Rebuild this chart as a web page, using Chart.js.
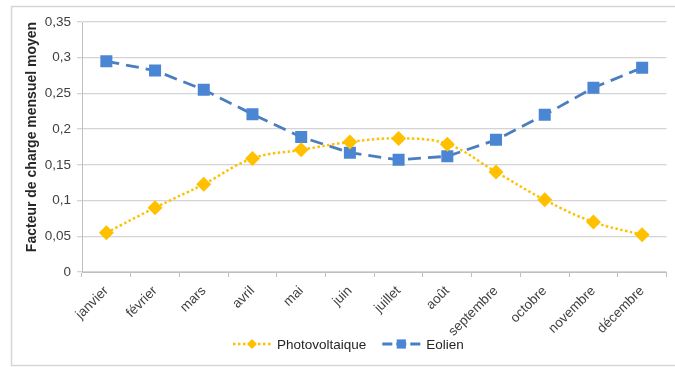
<!DOCTYPE html>
<html lang="fr">
<head>
<meta charset="utf-8">
<title>Facteur de charge mensuel moyen</title>
<script src="https://cdn.jsdelivr.net/npm/chart.js@4/dist/chart.umd.min.js"></script>
<style>
  html, body { margin: 0; padding: 0; background: #ffffff; }
  #wrap { position: relative; width: 675px; height: 367px; }
  canvas { display: block; }
</style>
</head>
<body>
<div id="wrap"><canvas id="chart" width="675" height="367"></canvas></div>
<script>
// Mois de l'année
const months = ['janvier', 'février', 'mars', 'avril', 'mai', 'juin', 'juillet', 'août',
                'septembre', 'octobre', 'novembre', 'décembre'];

// Facteur de charge mensuel moyen par filière
const photovoltaique = [0.055, 0.090, 0.123, 0.159, 0.171, 0.182, 0.187, 0.179, 0.140, 0.101, 0.070, 0.052];
const eolien         = [0.295, 0.282, 0.255, 0.221, 0.189, 0.167, 0.157, 0.162, 0.185, 0.220, 0.258, 0.286];

// Graduations de l'axe vertical
const yTickLabels = ['0', '0,05', '0,1', '0,15', '0,2', '0,25', '0,3', '0,35'];

const seriesNames = ['Photovoltaique', 'Eolien'];
const yAxisTitle = 'Facteur de charge mensuel moyen';

const FONT = "'Liberation Sans', Arial, sans-serif";
const GOLD = '#FFC000';
const BLUE = '#4A7EC0';
const BLUE_MARK = '#4A86D4';

// Cadre gris autour du graphique
const framePlugin = {
  id: 'frame',
  beforeDraw(chart) {
    const ctx = chart.ctx;
    ctx.save();
    ctx.fillStyle = '#ffffff';
    ctx.fillRect(0, 0, chart.width, chart.height);
    ctx.strokeStyle = '#d6d6d6';
    ctx.lineWidth = 1.5;
    ctx.strokeRect(11.5, 6.5, chart.width + 20, chart.height - 8);
    ctx.restore();
  }
};

// Titre de l'axe vertical, placé un peu au-dessus du centre de la zone de tracé
const yTitlePlugin = {
  id: 'yTitle',
  afterDraw(chart) {
    const ctx = chart.ctx;
    ctx.save();
    ctx.translate(32, 137);
    ctx.rotate(-Math.PI / 2);
    ctx.font = 'bold 14px ' + FONT;
    ctx.fillStyle = '#262626';
    ctx.textAlign = 'center';
    ctx.textBaseline = 'middle';
    ctx.fillText(yAxisTitle, 0, 0);
    ctx.restore();
  }
};

// Légende en bas : trait + marqueur + libellé, comme dans Excel
const lineLegendPlugin = {
  id: 'lineLegend',
  afterDraw(chart) {
    const ctx = chart.ctx;
    const y = 344;
    ctx.save();
    ctx.font = '13.5px ' + FONT;
    ctx.textBaseline = 'middle';
    const sym = 38, gap = 6, between = 16;
    let x = 233;
    chart.data.datasets.forEach((ds) => {
      ctx.save();
      ctx.strokeStyle = ds.borderColor;
      ctx.lineWidth = ds.borderWidth;
      ctx.setLineDash(ds.legendDash);
      ctx.beginPath();
      ctx.moveTo(x, y);
      ctx.lineTo(x + sym, y);
      ctx.stroke();
      ctx.restore();
      ctx.save();
      ctx.fillStyle = ds.pointBackgroundColor;
      ctx.strokeStyle = ds.pointBackgroundColor;
      Chart.helpers.drawPoint(ctx, {
        pointStyle: ds.pointStyle,
        radius: ds.legendRadius,
        borderWidth: 0
      }, x + sym / 2, y);
      ctx.restore();
      ctx.fillStyle = '#262626';
      ctx.fillText(ds.label, x + sym + gap, y + 1);
      x += sym + gap + ctx.measureText(ds.label).width + between;
    });
    ctx.restore();
  }
};

new Chart(document.getElementById('chart'), {
  type: 'line',
  data: {
    labels: months,
    datasets: [
      {
        label: seriesNames[0],
        data: photovoltaique,
        borderColor: GOLD,
        borderWidth: 2.5,
        borderDash: [2.5, 2.5],
        legendDash: [2.5, 2.5],
        legendRadius: 5,
        tension: 0.4,
        pointStyle: 'rectRot',
        pointRadius: 7.5,
        pointHoverRadius: 7.5,
        pointBackgroundColor: GOLD,
        pointBorderColor: GOLD,
        pointBorderWidth: 0
      },
      {
        label: seriesNames[1],
        data: eolien,
        borderColor: BLUE,
        borderWidth: 2.8,
        borderDash: [13, 7],
        legendDash: [10, 4],
        legendRadius: 6.5,
        tension: 0,
        pointStyle: 'rect',
        pointRadius: 8.5,
        pointHoverRadius: 8.5,
        pointBackgroundColor: BLUE_MARK,
        pointBorderColor: BLUE_MARK,
        pointBorderWidth: 0
      }
    ]
  },
  options: {
    responsive: false,
    animation: false,
    layout: { padding: { left: 11, right: 5, top: 22, bottom: 0 } },
    plugins: {
      legend: { display: false },
      tooltip: { enabled: false }
    },
    scales: {
      x: {
        offset: true,
        afterFit: (s) => { s.height = 95; },
        grid: {
          offset: true,
          drawOnChartArea: false,
          drawTicks: true,
          tickLength: 5,
          color: '#bfbfbf'
        },
        border: { color: '#bfbfbf', width: 1 },
        ticks: {
          minRotation: 45,
          maxRotation: 45,
          autoSkip: false,
          color: '#404040',
          padding: 6,
          font: { family: FONT, size: 13.5 }
        }
      },
      y: {
        min: 0,
        max: 0.35,
        afterFit: (s) => { s.width = 71; },
        ticks: {
          stepSize: 0.05,
          color: '#404040',
          padding: 6,
          font: { family: FONT, size: 13.5 },
          callback: (v, i) => yTickLabels[i]
        },
        grid: {
          color: '#d4d4d4',
          lineWidth: 1.3,
          tickLength: 5,
          drawTicks: true
        },
        border: { color: '#bfbfbf', width: 1 },
        title: { display: false }
      }
    }
  },
  plugins: [framePlugin, yTitlePlugin, lineLegendPlugin]
});
</script>
</body>
</html>
